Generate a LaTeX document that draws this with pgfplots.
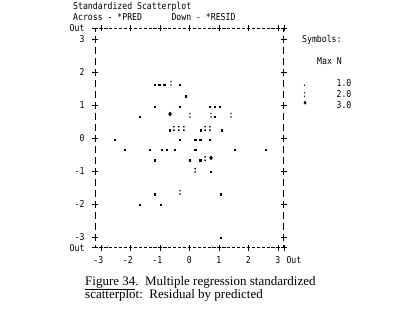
\documentclass[border=0pt]{standalone}
\usepackage{fontspec}
\setmainfont{Liberation Serif}
\newfontfamily\mono[FakeStretch=0.86]{DejaVu Sans Mono}
\usepackage{pgfplots}
\pgfplotsset{compat=1.18}
\pgfdeclareplotmark{colon}{%
  \pgfpathrectangle{\pgfqpoint{-0.65pt}{-0.65pt}}{\pgfqpoint{1.3pt}{1.3pt}}%
  \pgfpathrectangle{\pgfqpoint{-0.65pt}{2.75pt}}{\pgfqpoint{1.3pt}{1.3pt}}%
  \pgfusepathqfill}
\newcommand{\mfont}{\fontsize{9.5}{11}\mono}
\begin{document}
\begin{tikzpicture}
\path[use as bounding box] (-95.1pt,-68.4pt) rectangle (305.9pt,247.6pt);
\begin{axis}[
  at={(0pt,0pt)}, anchor=south west,
  scale only axis, width=188.8pt, height=219.1pt,
  xmin=-3.2, xmax=3.2, ymin=-3.32, ymax=3.32,
  separate axis lines,
  x axis line style={line width=0.7pt, dash pattern=on 3.3pt off 1.617pt, dash phase=0.667pt},
  y axis line style={line width=1pt, dash pattern=on 7pt off 4pt, dash phase=3.94pt},
  xtick={-3,-2,-1,0,1,2,3}, xticklabels={-3,-2,-1,0,1,2,3},
  ytick={-3,-2,-1,0,1,2,3}, yticklabels={-3,-2,-1,0,1,2,3},
  extra x ticks={3.2}, extra x tick labels={Out},
  extra y ticks={-3.32,3.32}, extra y tick labels={Out,Out},
  tick align=center, major tick length=6pt,
  tick style={black, line width=0.8pt},
  xtick pos=both, ytick pos=both, xticklabel pos=lower, yticklabel pos=left,
  ticklabel style={font=\mfont, inner sep=0pt},
  yticklabel style={anchor=east, xshift=-7.4pt},
  xticklabel style={anchor=base east, xshift=2.46pt, yshift=-12.9pt},
  extra x tick style={xticklabel style={anchor=base west}},
  clip=false,
]
\addplot[only marks, mark=square*, mark size=0.6pt, black] coordinates {
(-1.17,1.61) (-1.03,1.61) (-0.86,1.61) (-0.32,1.61)
(-0.12,1.27)
(-1.17,0.94) (-0.32,0.94) (0.69,0.94) (0.86,0.94) (1.03,0.94)
(-1.68,0.64) (0.86,0.64)
(-0.66,0.24) (0.39,0.24) (1.10,0.24)
(-2.53,-0.06) (-0.32,-0.06) (0.19,-0.06) (0.36,-0.06) (0.69,-0.06)
(-2.19,-0.36) (-1.34,-0.36) (-0.93,-0.36) (-0.76,-0.36) (-0.49,-0.36) (0.19,-0.36) (1.54,-0.36) (2.59,-0.36)
(-1.17,-0.67) (0.02,-0.67) (0.36,-0.67)
(0.73,-1.03)
(-1.17,-1.70) (1.07,-1.70)
(-1.68,-2.03) (-0.97,-2.03)
(1.07,-3.03)
};
\addplot[only marks, mark=colon, black] coordinates {
(-0.63,1.61)
(0.02,0.64) (0.73,0.64) (1.41,0.64)
(-0.53,0.24) (-0.36,0.24) (-0.19,0.24) (0.53,0.24) (0.69,0.24)
(0.53,-0.67)
(0.19,-1.03)
(-0.32,-1.70)
};
\addplot[only marks, mark=diamond*, mark size=2pt, black] coordinates {
(-0.66,0.73) (0.73,-0.60)
};
\end{axis}
\begin{scope}[every node/.style={inner sep=0pt, anchor=base west, font=\mfont}]
\node at (-22.1pt,237.6pt) {Standardized Scatterplot};
\node at (-22.1pt,226.6pt) {Across - *PRED};
\node at (76.2pt,226.6pt) {Down - *RESID};
\node at (206.9pt,204.7pt) {Symbols:};
\node at (221.9pt,182.7pt) {Max N};
\node at (206.9pt,160.7pt) {.};
\node at (241.3pt,160.7pt) {1.0};
\node at (206.9pt,149.7pt) {:};
\node at (241.3pt,149.7pt) {2.0};
\node at (241.3pt,138.7pt) {3.0};
\end{scope}
\fill (209.9pt,146.9pt) -- (211.4pt,144.9pt) -- (209.9pt,142.9pt) -- (208.4pt,144.9pt) -- cycle;
\begin{scope}[every node/.style={inner sep=0pt, anchor=base west, font=\fontsize{13}{13.5}\selectfont}]
\node at (-10.1pt,-37.4pt) {\underline{Figure 34}.\ \ Multiple regression standardized};
\node at (-10.1pt,-50.9pt) {scatterplot:\ \ Residual by predicted};
\end{scope}
\end{tikzpicture}
\end{document}
